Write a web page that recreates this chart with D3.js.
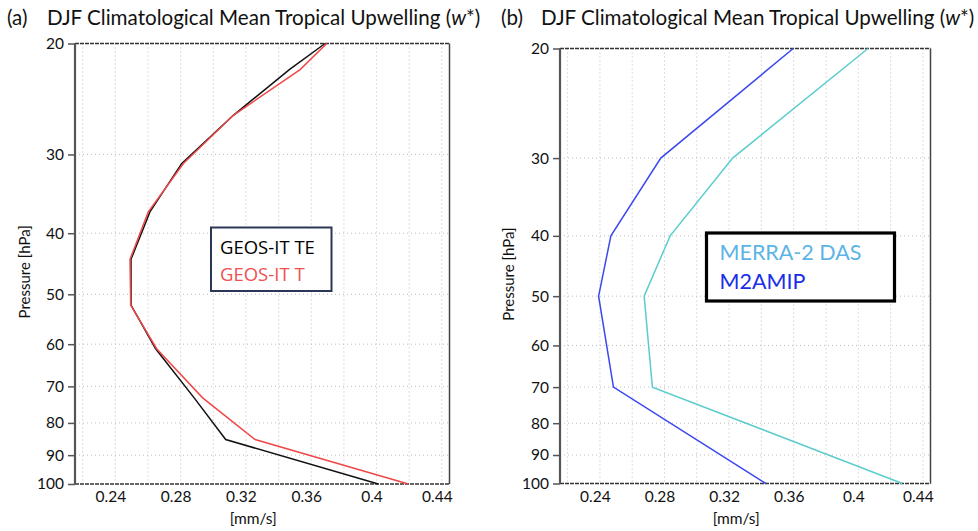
<!DOCTYPE html>
<html>
<head>
<meta charset="utf-8">
<script src="https://cdn.jsdelivr.net/npm/d3@7"></script>
<style>
html,body{margin:0;padding:0;background:#fff;}
svg{display:block;}
</style>
</head>
<body>
<svg id="chart" width="978" height="531"></svg>
<script>
// ---- Data ----
const pressureA = [20, 22, 26, 31, 37, 44, 52, 61, 73, 85, 100];
const geosTE   = [0.3685, 0.3466, 0.3123, 0.2807, 0.2612, 0.2496, 0.2496, 0.2647, 0.2883, 0.3076, 0.4011];
const geosT    = [0.3695, 0.3532, 0.3123, 0.2817, 0.2602, 0.2490, 0.2494, 0.2653, 0.2935, 0.3256, 0.4195];

const pressureB = [20, 30, 40, 50, 70, 100];
const merra2Das = [0.4060, 0.3222, 0.2835, 0.2674, 0.2725, 0.4273];
const m2amip    = [0.3597, 0.2777, 0.2468, 0.2392, 0.2484, 0.3428];

const xTickLabels = [0.24, 0.28, 0.32, 0.36, 0.40, 0.44];
const xGridValues = [0.22, 0.24, 0.26, 0.28, 0.30, 0.32, 0.34, 0.36, 0.38, 0.40, 0.42, 0.44];
const yTickValues = [20, 30, 40, 50, 60, 70, 80, 90, 100];
const yGridValues = [30, 40, 50, 60, 70, 80, 90];

const svg = d3.select("#chart");
const FONT = "Lato, 'Open Sans', sans-serif";

function drawPanel(cfg) {
  const g = svg.append("g");
  const x = d3.scaleLinear().domain([0.2153, 0.4447]).range([cfg.left, cfg.right]);
  const y = d3.scaleLog().domain([20, 100]).range([cfg.top, cfg.bottom]);

  // grid
  g.selectAll("line.vg").data(xGridValues).join("line")
    .attr("x1", d => x(d)).attr("x2", d => x(d))
    .attr("y1", cfg.top).attr("y2", cfg.bottom)
    .attr("stroke", "#bdbdbd").attr("stroke-width", 1).attr("stroke-dasharray", "1,3");
  g.selectAll("line.hg").data(yGridValues).join("line")
    .attr("x1", cfg.left).attr("x2", cfg.right)
    .attr("y1", d => y(d)).attr("y2", d => y(d))
    .attr("stroke", "#bdbdbd").attr("stroke-width", 1).attr("stroke-dasharray", "1,3");

  // y axis
  const yAxis = d3.axisLeft(y).tickValues(yTickValues).tickSize(7).tickPadding(4).tickFormat(d => String(d));
  const ya = g.append("g").attr("transform", `translate(${cfg.left},0)`).call(yAxis);
  ya.select(".domain").remove();
  ya.selectAll(".tick line").attr("stroke", "#555").attr("stroke-width", 1.5);
  ya.selectAll(".tick text").attr("font-family", FONT).attr("font-size", 15.5).attr("fill", "#111");

  // x axis
  const xAxis = d3.axisBottom(x).tickValues(xTickLabels).tickSize(0).tickPadding(7)
    .tickFormat(d => String(+d.toFixed(2)));
  const xa = g.append("g").attr("transform", `translate(0,${cfg.bottom})`).call(xAxis);
  xa.select(".domain").remove();
  xa.selectAll(".tick text").attr("font-family", FONT).attr("font-size", 15.5).attr("fill", "#111").attr("dx", -5);

  // borders
  g.append("line").attr("x1", cfg.left).attr("x2", cfg.right).attr("y1", cfg.top).attr("y2", cfg.top)
    .attr("stroke", "#333").attr("stroke-width", 1.5).attr("stroke-dasharray", "4,1");
  g.append("line").attr("x1", cfg.left).attr("x2", cfg.right).attr("y1", cfg.bottom).attr("y2", cfg.bottom)
    .attr("stroke", "#333").attr("stroke-width", 1.5).attr("stroke-dasharray", "4,1");
  g.append("line").attr("x1", cfg.left).attr("x2", cfg.left).attr("y1", cfg.top).attr("y2", cfg.bottom)
    .attr("stroke", "#555").attr("stroke-width", 2.2);
  g.append("line").attr("x1", cfg.right).attr("x2", cfg.right).attr("y1", cfg.top).attr("y2", cfg.bottom)
    .attr("stroke", "#444").attr("stroke-width", 1.5);

  // series
  const line = d3.line().x(d => x(d.v)).y(d => y(d.p));
  cfg.series.forEach(s => {
    const pts = s.values.map((v, i) => ({ v, p: cfg.pressure[i] }));
    g.append("path").datum(pts).attr("d", line)
      .attr("fill", "none").attr("stroke", s.color).attr("stroke-width", 1.5).attr("stroke-linejoin", "miter");
  });

  // axis titles
  g.append("text").attr("transform", `translate(${cfg.ylabelX},${(cfg.top + cfg.bottom) / 2 + 8}) rotate(-90)`)
    .attr("text-anchor", "middle").attr("font-family", FONT).attr("font-size", 15).attr("fill", "#111")
    .text("Pressure [hPa]");
  g.append("text").attr("x", (cfg.left + cfg.right) / 2 - 9).attr("y", 524)
    .attr("text-anchor", "middle").attr("font-family", FONT).attr("font-size", 15.5).attr("fill", "#111")
    .text("[mm/s]");

  // title
  const t = svg.append("text").attr("y", 25).attr("font-family", FONT).attr("font-size", 20.6).attr("fill", "#111");
  t.append("tspan").attr("x", cfg.titleX).text(cfg.letter);
  t.append("tspan").attr("x", cfg.titleX + 40).text("DJF Climatological Mean Tropical Upwelling (");
  t.append("tspan").attr("font-style", "italic").text("w");
  t.append("tspan").text("*)");

  // legend
  const lg = cfg.legend;
  g.append("rect").attr("x", lg.x).attr("y", lg.y).attr("width", lg.w).attr("height", lg.h)
    .attr("fill", "#fff").attr("stroke", lg.stroke).attr("stroke-width", lg.sw);
  cfg.series.forEach((s, i) => {
    g.append("text").attr("x", lg.x + lg.pad).attr("y", lg.y + lg.first + i * lg.step)
      .attr("font-family", lg.font).attr("font-size", lg.fs).attr("fill", s.labelColor)
      .text(s.name);
  });
}

drawPanel({
  left: 75, right: 449.5, top: 43.5, bottom: 484,
  pressure: pressureA, letter: "(a)", titleX: 7, ylabelX: 30,
  series: [
    { name: "GEOS-IT TE", values: geosTE, color: "#111111", labelColor: "#000" },
    { name: "GEOS-IT T", values: geosT, color: "#f04848", labelColor: "#f05050" }
  ],
  legend: { x: 211, y: 227.5, w: 120.5, h: 63.5, stroke: "#2a3656", sw: 2, pad: 9, first: 26, step: 27,
            font: "'Open Sans', sans-serif", fs: 18.5 }
});

drawPanel({
  left: 560, right: 930.5, top: 48.5, bottom: 483.5,
  pressure: pressureB, letter: "(b)", titleX: 501, ylabelX: 514,
  series: [
    { name: "MERRA-2 DAS", values: merra2Das, color: "#5ccccc", labelColor: "#5ab4e6" },
    { name: "M2AMIP", values: m2amip, color: "#3a48ee", labelColor: "#1a2ee8" }
  ],
  legend: { x: 706.5, y: 233, w: 188, h: 68, stroke: "#000", sw: 3.2, pad: 13, first: 26.5, step: 29,
            font: FONT, fs: 21.5 }
});
</script>
</body>
</html>
